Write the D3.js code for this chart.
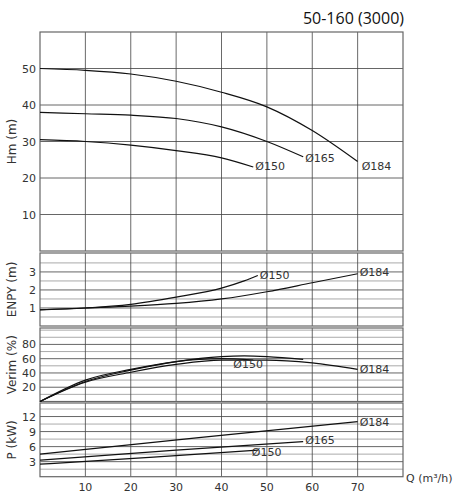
<!DOCTYPE html><html><head><script src="https://cdn.jsdelivr.net/npm/d3@7"></script>
<style>body{margin:0;background:#fff}text{font-family:"DejaVu Sans",sans-serif;fill:#333}</style></head><body>
<svg id="c" width="456" height="500"></svg>
<script>
const xTicks=[10,20,30,40,50,60,70];
const h184=[[0,50],[10,49.5],[20,48.5],[30,46.5],[40,43.5],[50,39.5],[60,33],[70,24.5]];
const h165=[[0,38],[10,37.6],[20,37.2],[30,36.3],[40,34],[50,30],[58,25.8]];
const h150=[[0,30.5],[10,30],[20,29],[30,27.5],[40,25.5],[47,23]];
const n150=[[0,0.9],[10,1.0],[20,1.2],[30,1.6],[40,2.1],[45,2.5],[48,2.8]];
const n184=[[0,0.9],[10,1.0],[20,1.1],[30,1.25],[40,1.5],[50,1.9],[60,2.4],[70,2.9]];
const e184=[[0,0],[10,27],[20,41],[30,52],[40,58],[50,58],[60,54],[70,45]];
const e165=[[0,0],[10,28],[20,44],[30,56],[40,63],[45,64],[50,63],[58,59]];
const e150=[[0,0],[10,30],[20,45],[30,56],[40,60],[47,58]];
const p184=[[0,4.5],[35,7.8],[70,11]];
const p165=[[0,3.3],[30,5.3],[58,7]];
const p150=[[0,2.5],[25,3.9],[48,5.3]];
const svg=d3.select("#c");
const x=d3.scaleLinear().domain([0,80]).range([40,403]);
const panels=[
 {top:32,bot:251,dom:[0,60],ticks:[10,20,30,40,50],grid:d3.range(10,60,10),label:"Hm (m)",
  series:[[h184,"Ø184",[4,4]],[h165,"Ø165",[2,1]],[h150,"Ø150",[2,-1]]]},
 {top:253,bot:326,dom:[0,4.05],ticks:[1,2,3],grid:[0.5,1,1.5,2,2.5,3,3.5],label:"ENPY (m)",
  series:[[n150,"Ø150",[2,-1]],[n184,"Ø184",[2,-2]]]},
 {top:328,bot:401.5,dom:[0,103],ticks:[20,40,60,80],grid:d3.range(10,101,10),label:"Verim (%)",
  series:[[e184,"Ø184",[2,0]],[e165,"",[0,0]],[e150,"Ø150",[-20,4]]]},
 {top:403,bot:476.7,dom:[0,14.7],ticks:[3,6,9,12],grid:[1.5,3,4.5,6,7.5,9,10.5,12,13.5],label:"P (kW)",
  series:[[p184,"Ø184",[2,0]],[p165,"Ø165",[2,-2]],[p150,"Ø150",[-6,2]]]}
];
panels.forEach(p=>{
 const y=d3.scaleLinear().domain(p.dom).range([p.bot,p.top]);
 const g=svg.append("g");
 g.selectAll(".hg").data(p.grid).join("line").attr("x1",40).attr("x2",403).attr("y1",d=>y(d)).attr("y2",d=>y(d))
  .attr("stroke",p.ticks.includes?"#555":"#555").attr("stroke-width",d=>p.ticks.includes(d)?0.9:0.5);
 g.selectAll(".vg").data(xTicks).join("line").attr("x1",d=>x(d)).attr("x2",d=>x(d)).attr("y1",p.top).attr("y2",p.bot).attr("stroke","#444").attr("stroke-width",0.8);
 g.append("rect").attr("x",40).attr("y",p.top).attr("width",363).attr("height",p.bot-p.top).attr("fill","none").attr("stroke","#666").attr("stroke-width",1.2);
 g.selectAll(".tl").data(p.ticks).join("text").attr("x",36).attr("y",d=>y(d)+4).attr("text-anchor","end").attr("font-size",11).text(d=>d);
 g.append("text").attr("transform",`translate(16,${(p.top+p.bot)/2}) rotate(-90)`).attr("text-anchor","middle").attr("font-size",12).text(p.label);
 const line=d3.line().x(d=>x(d[0])).y(d=>y(d[1])).curve(d3.curveMonotoneX);
 p.series.forEach(([data,lab,off])=>{
  g.append("path").attr("d",line(data)).attr("fill","none").attr("stroke","#111").attr("stroke-width",1.2);
  if(lab){const e=data[data.length-1];
   g.append("text").attr("x",x(e[0])+off[0]).attr("y",y(e[1])+off[1]+4).attr("font-size",11).text(lab);}
 });
});
svg.selectAll(".xt").data(xTicks).join("text").attr("x",d=>x(d)).attr("y",491).attr("text-anchor","middle").attr("font-size",11).text(d=>d);
svg.append("text").attr("x",406).attr("y",482).attr("font-size",11).text("Q (m³/h)");
svg.append("text").attr("x",404).attr("y",24).attr("text-anchor","end").attr("font-size",16).style("font-family","'Open Sans',sans-serif").style("fill","#111").text("50-160 (3000)");
</script></body></html>
